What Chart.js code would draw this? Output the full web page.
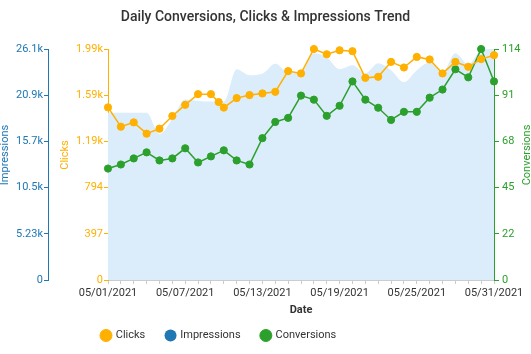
<!DOCTYPE html>
<html><head><meta charset="utf-8">
<script src="https://cdn.jsdelivr.net/npm/chart.js@4"></script>
<style>html,body{margin:0;padding:0;background:#fff}</style>
</head><body>
<canvas id="c" width="531" height="354"></canvas>
<script>
// ---- data ----
const dates = ['05/01/2021','05/02/2021','05/03/2021','05/04/2021','05/05/2021','05/06/2021','05/07/2021','05/08/2021','05/09/2021','05/10/2021','05/11/2021','05/12/2021','05/13/2021','05/14/2021','05/15/2021','05/16/2021','05/17/2021','05/18/2021','05/19/2021','05/20/2021','05/21/2021','05/22/2021','05/23/2021','05/24/2021','05/25/2021','05/26/2021','05/27/2021','05/28/2021','05/29/2021','05/30/2021','05/31/2021'];
const labeledDays = [0, 6, 12, 18, 24, 30];
const clickDays = [0,1,2,3,4,5,6,7,8,8.6,9,10,11,12,13,14,15,16,17,18,19,20,21,22,23,24,25,26,27,28,29,30];
const clicks = [1484,1318,1355,1258,1301,1410,1506,1598,1598,1530,1482,1564,1590,1604,1618,1796,1776,1986,1941,1975,1967,1738,1747,1875,1827,1918,1896,1776,1875,1833,1899,1933];
const impressions = [18925,18925,18925,18925,16520,18214,20416,20247,20190,20190,23860,23182,23352,24481,23521,23521,25667,25215,23860,24311,23408,24537,23747,22392,23747,24650,23521,25667,24425,26006,26140];
const conversions = [55,57,60,63,59,60,65,58,61,64,59,57,70,78,80,91,89,81,86,98,89,85,79,83,83,90,94,104,100,114,98];
const impTicks = ['0','5.23k','10.5k','15.7k','20.9k','26.1k'];
const clickTicks = ['0','397','794','1.19k','1.59k','1.99k'];
const convTicks = ['0','22','45','68','91','114'];
const impMax = 26140, clickMax = 1986, convMax = 114;

// ---- style ----
const ORANGE = '#ffb000', BLUE = '#1f77b4', GREEN = '#2ca02c', AREA = 'rgb(219,236,250)', TXT = '#333333';
Chart.defaults.font.family = "Roboto, 'Noto Sans', sans-serif";
Chart.defaults.font.size = 11;

function evenTicks(max) {
  return s => { s.ticks = [0,1,2,3,4,5].map(i => ({ value: max * i / 5 })); };
}

const axisTitles = {
  id: 'axisTitles',
  afterDraw(chart) {
    const ctx = chart.ctx, a = chart.chartArea;
    const yc = (a.top + a.bottom) / 2 - 9.5;
    const items = [
      ['Impressions', chart.scales.yImp.left + 5.5, BLUE],
      ['Clicks', chart.scales.yClk.left + 17.5, ORANGE],
      ['Conversions', chart.scales.yConv.right - 3.5, GREEN]
    ];
    ctx.save();
    ctx.font = "11px Roboto, 'Noto Sans', sans-serif";
    ctx.textAlign = 'center'; ctx.textBaseline = 'middle';
    items.forEach(([t, x, c]) => {
      ctx.save(); ctx.translate(x, yc); ctx.rotate(-Math.PI / 2);
      ctx.fillStyle = c; ctx.fillText(t, 0, 0); ctx.restore();
    });
    ctx.restore();
  }
};
const legendShift = {
  id: 'legendShift',
  beforeDraw(chart) {
    const lg = chart.legend;
    if (lg) { lg.left = 80.75; lg.top = chart.height - 45; }
  }
};

new Chart(document.getElementById('c'), {
  type: 'line',
  data: {
    datasets: [
      { label: 'Clicks', yAxisID: 'yClk', data: clicks.map((v, i) => ({ x: clickDays[i], y: v })),
        borderColor: ORANGE, backgroundColor: ORANGE, pointBackgroundColor: ORANGE, pointBorderColor: ORANGE,
        borderWidth: 1.5, pointRadius: 3.6, pointBorderWidth: 1, tension: 0, fill: false, clip: false },
      { label: 'Impressions', yAxisID: 'yImp', data: impressions.map((v, i) => ({ x: i, y: v })),
        borderColor: 'rgba(0,0,0,0)', borderWidth: 0, backgroundColor: AREA, fill: 'origin',
        pointRadius: 0, pointBackgroundColor: BLUE, pointBorderColor: BLUE, cubicInterpolationMode: 'monotone' },
      { label: 'Conversions', yAxisID: 'yConv', data: conversions.map((v, i) => ({ x: i, y: v })),
        borderColor: GREEN, backgroundColor: GREEN, pointBackgroundColor: GREEN, pointBorderColor: GREEN,
        borderWidth: 1.5, pointRadius: 3.6, pointBorderWidth: 1, tension: 0, fill: false, clip: false }
    ]
  },
  options: {
    responsive: false, animation: false, devicePixelRatio: 1,
    layout: { padding: 0 },
    plugins: {
      filler: { drawTime: 'beforeDatasetsDraw' },
      tooltip: { enabled: false },
      title: { display: true, text: 'Daily Conversions, Clicks & Impressions Trend', color: TXT,
        font: { size: 14, weight: '500' }, padding: { top: 9, bottom: 23.2 } },
      legend: { position: 'bottom', align: 'start', maxHeight: 30,
        labels: { usePointStyle: true, pointStyle: 'circle', boxWidth: 8.5, boxHeight: 8.5, padding: 21,
          color: TXT, font: { size: 11 } } }
    },
    scales: {
      x: { type: 'linear', position: 'bottom', min: 0, max: 30, offset: false,
        afterBuildTicks: s => { s.ticks = dates.map((d, i) => ({ value: i })); },
        ticks: { autoSkip: false, maxRotation: 0, minRotation: 0, padding: 3, color: TXT,
          callback: v => labeledDays.includes(v) ? dates[v] : '' },
        grid: { drawOnChartArea: false, drawTicks: true, tickLength: 4, color: '#cccccc' },
        border: { display: true, color: '#cccccc' },
        title: { display: true, text: 'Date', color: TXT, font: { size: 11, weight: 'bold' }, padding: { top: 3.5, bottom: 7 } },
        afterFit: s => { s.height = 44; } },
      yClk: { type: 'linear', position: 'left', min: 0, max: clickMax,
        afterBuildTicks: evenTicks(clickMax),
        ticks: { color: ORANGE, padding: 1, callback: (v, i) => clickTicks[i] },
        grid: { drawOnChartArea: false, tickLength: 4, color: ORANGE },
        border: { display: true, color: ORANGE },
        afterFit: s => { s.width = 60; } },
      yImp: { type: 'linear', position: 'left', min: 0, max: impMax,
        afterBuildTicks: evenTicks(impMax),
        ticks: { color: BLUE, padding: 1, callback: (v, i) => impTicks[i] },
        grid: { drawOnChartArea: false, tickLength: 4, color: BLUE },
        border: { display: true, color: BLUE },
        afterFit: s => { s.width = 48; } },
      yConv: { type: 'linear', position: 'right', min: 0, max: convMax,
        afterBuildTicks: evenTicks(convMax),
        ticks: { color: GREEN, padding: 3, callback: (v, i) => convTicks[i] },
        grid: { drawOnChartArea: false, tickLength: 5, color: GREEN },
        border: { display: true, color: GREEN },
        afterFit: s => { s.width = 37; } }
    }
  },
  plugins: [axisTitles, legendShift]
});
</script>
</body></html>
